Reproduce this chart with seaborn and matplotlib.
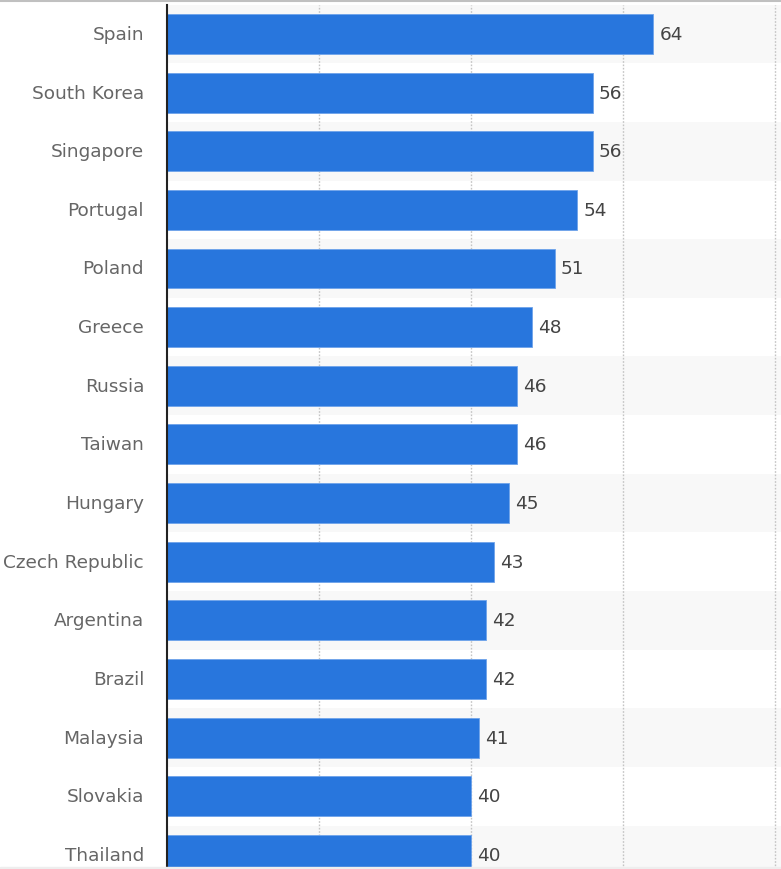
import matplotlib
matplotlib.use("Agg")
import matplotlib.pyplot as plt
import seaborn as sns
import pandas as pd
from matplotlib.lines import Line2D
from matplotlib.patches import Rectangle

countries = ["Spain", "South Korea", "Singapore", "Portugal", "Poland", "Greece",
             "Russia", "Taiwan", "Hungary", "Czech Republic", "Argentina", "Brazil",
             "Malaysia", "Slovakia", "Thailand"]
values = [64, 56, 56, 54, 51, 48, 46, 46, 45, 43, 42, 42, 41, 40, 40]
grid_ticks = [20, 40, 60, 80]

df = pd.DataFrame({"country": countries, "value": values})

sns.set_theme(style="white")
plt.rcParams["font.family"] = ["DejaVu Sans"]

W, H = 781, 870
fig = plt.figure(figsize=(W / 100, H / 100), dpi=100)
ax = fig.add_axes([167 / W, 0.0, 1 - 167 / W, 1 - 5.6 / H])

for i in range(0, len(countries), 2):
    ax.axhspan(i - 0.5, i + 0.5, color="#f8f8f8", zorder=0, lw=0)

sns.barplot(data=df, x="value", y="country", orient="h", color="#2876dd",
            width=0.68, saturation=1, ax=ax, zorder=3,
            edgecolor="#6ea3ea", linewidth=0.6)

ax.set_xlim(0, 80.8)
ax.set_ylim(14.24, -0.5)
ax.set_xticks(grid_ticks)
ax.xaxis.grid(True, color="#c4c4c4", linestyle=(0, (1.2, 1.2)), linewidth=1)
ax.yaxis.grid(False)
ax.set_axisbelow(True)
ax.tick_params(axis="x", bottom=False, labelbottom=False)
ax.tick_params(axis="y", left=False, length=0, pad=16.5, labelsize=13.3,
               labelcolor="#666666")
for lab in ax.get_yticklabels():
    lab.set_verticalalignment("center")
ax.set_xlabel("")
ax.set_ylabel("")
for s in ["top", "right", "bottom"]:
    ax.spines[s].set_visible(False)
ax.spines["left"].set_color("#222222")
ax.spines["left"].set_linewidth(1.5)
ax.spines["left"].set_zorder(5)

for c in ax.containers:
    ax.bar_label(c, labels=[str(v) for v in values], padding=4.5,
                 fontsize=13.3, color="#444444")

fig.add_artist(Line2D([0, 1], [1 - 1.5 / H, 1 - 1.5 / H], color="#c0c0c0",
                      linewidth=1.5, transform=fig.transFigure))
fig.add_artist(Rectangle((0, 0), 1, 2.5 / H, color="#eeeeee",
                         transform=fig.transFigure, zorder=10))

fig.savefig("out.png", dpi=100)
